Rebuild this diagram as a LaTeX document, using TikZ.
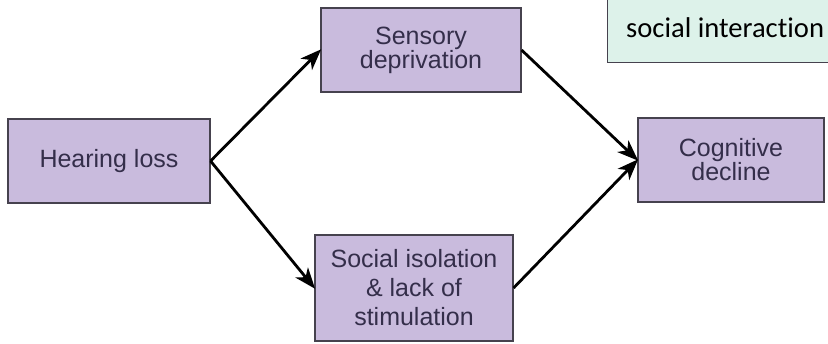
\documentclass[tikz,border=0pt]{standalone}
\usepackage{fontspec}
\setmainfont{Liberation Sans}
\newfontfamily\notefont[Ligatures=NoCommon]{Carlito}
\usetikzlibrary{arrows.meta}
\definecolor{boxfill}{RGB}{201,187,221}
\definecolor{boxline}{RGB}{70,66,78}
\definecolor{boxtext}{RGB}{52,46,74}
\definecolor{notefill}{RGB}{221,242,234}
\tikzset{
  stagebox/.style={draw=boxline, line width=1.1pt, fill=boxfill, text=boxtext,
    align=center, inner sep=0pt, font=\fontsize{25}{24}\selectfont},
  flowarrow/.style={line width=2.8pt, black,
    -{Stealth[length=21pt, width=16pt, inset=6pt]}, shorten >=-1pt},
  notebox/.style={draw=boxline, line width=1.1pt, fill=notefill}
}
\begin{document}
\begin{tikzpicture}[x=1pt, y=-1pt]
\useasboundingbox (0,0) rectangle (828,343);
\clip (0,0) rectangle (828,343);
\fill[white] (0,0) rectangle (828,343);
% note box at top right (cropped)
\node[notebox, minimum width=240pt, minimum height=75pt, anchor=south west] (note) at (607,63) {};
\node[anchor=base west, inner sep=0pt, font=\notefont\fontsize{28.6}{34}\selectfont, text=black] (notetext) at (626,37) {social interaction};
% boxes
\node[stagebox, minimum width=202pt, minimum height=84pt] (hear) at (109,161) {Hearing loss};
\node[stagebox, minimum width=200pt, minimum height=84pt] (sens) at (421,50) {Sensory\\deprivation};
\node[stagebox, minimum width=198pt, minimum height=106pt, font=\fontsize{25}{29}\selectfont] (soc) at (414,288) {Social isolation\\\& lack of\\stimulation};
\node[stagebox, minimum width=186pt, minimum height=84pt] (cog) at (731,160) {Cognitive\\decline};
% arrows
\draw[flowarrow] (hear.east) -- (sens.west);
\draw[flowarrow] (hear.east) -- (soc.west);
\draw[flowarrow] (sens.east) -- (cog.west);
\draw[flowarrow] (soc.east) -- (cog.west);
\end{tikzpicture}
\end{document}
